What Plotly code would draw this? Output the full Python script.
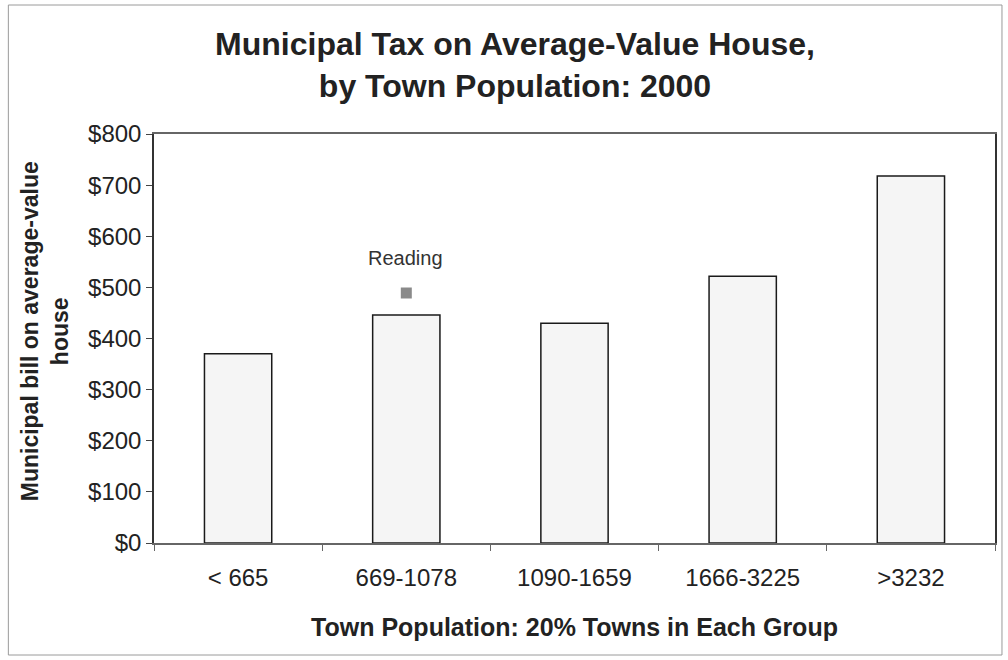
import plotly.graph_objects as go

categories = ["< 665", "669-1078", "1090-1659", "1666-3225", ">3232"]
tax_values = [370, 446, 430, 522, 718]
reading_category = "669-1078"
reading_value = 489
y_ticks = [0, 100, 200, 300, 400, 500, 600, 700, 800]
y_tick_labels = ["$" + str(v) for v in y_ticks]

FONT = "Liberation Sans, Arial, sans-serif"

fig = go.Figure()
fig.add_trace(go.Bar(
    x=categories, y=tax_values, width=0.4,
    marker=dict(color="#f5f5f5", line=dict(color="#1a1a1a", width=1.5)),
    showlegend=False, hoverinfo="skip",
))
fig.add_trace(go.Scatter(
    x=[reading_category], y=[reading_value], mode="markers",
    marker=dict(symbol="square", size=11, color="#8a8a8a"),
    showlegend=False, hoverinfo="skip",
))
fig.add_annotation(
    x=reading_category, y=reading_value, text="Reading", showarrow=False,
    yshift=35, xshift=-1, yanchor="middle",
    font=dict(family=FONT, size=20, color="#333333"),
)

L, R, T, B = 154, 11, 134, 117
fig.update_layout(
    width=1008, height=660,
    margin=dict(l=L, r=R, t=T, b=B),
    paper_bgcolor="white", plot_bgcolor="white",
    font=dict(family=FONT, color="#222222"),
    title=dict(
        text="<b>Municipal Tax on Average-Value House,<br>by Town Population: 2000</b>",
        x=515 / 1008, xref="container", xanchor="center",
        y=1 - 55 / 660, yref="container", yanchor="middle",
        font=dict(family=FONT, size=32, color="#222222"),
    ),
)
fig.update_xaxes(
    type="category",
    showline=True, linecolor="#666666", linewidth=1.5, mirror=True,
    ticks="outside", ticklen=6, tickcolor="#666666", tickson="boundaries",
    tickfont=dict(family=FONT, size=24, color="#222222"),
    ticklabelstandoff=12,
    showgrid=False,
    title=dict(text="<b>Town Population: 20% Towns in Each Group</b>",
               font=dict(family=FONT, size=25, color="#222222"), standoff=29),
)
fig.update_yaxes(
    range=[0, 800], tickvals=y_ticks, ticktext=y_tick_labels,
    showline=True, linecolor="#333333", linewidth=1.5, mirror=True,
    ticks="outside", ticklen=6, tickcolor="#444444",
    tickfont=dict(family=FONT, size=24, color="#222222"),
    showgrid=False, zeroline=False,
)

pw, ph = 1008 - L - R, 660 - T - B

# Y axis title (two lines, rotated)
fig.add_annotation(
    text="<b>Municipal bill on average-value<br>house</b>",
    xref="paper", yref="paper", x=(45 - L) / pw, y=(543 - 331) / ph,
    xanchor="center", yanchor="middle", textangle=-90, showarrow=False,
    font=dict(family=FONT, size=23, color="#222222"),
)

# outer frame of the chart
fig.add_shape(
    type="rect", xref="paper", yref="paper",
    x0=(8 - L) / pw, x1=(1004 - L) / pw,
    y0=(660 - B - 655) / ph, y1=(660 - B - 5) / ph,
    line=dict(color="#9a9a9a", width=1), fillcolor="rgba(0,0,0,0)", layer="below",
)

fig.write_html("out.html")
